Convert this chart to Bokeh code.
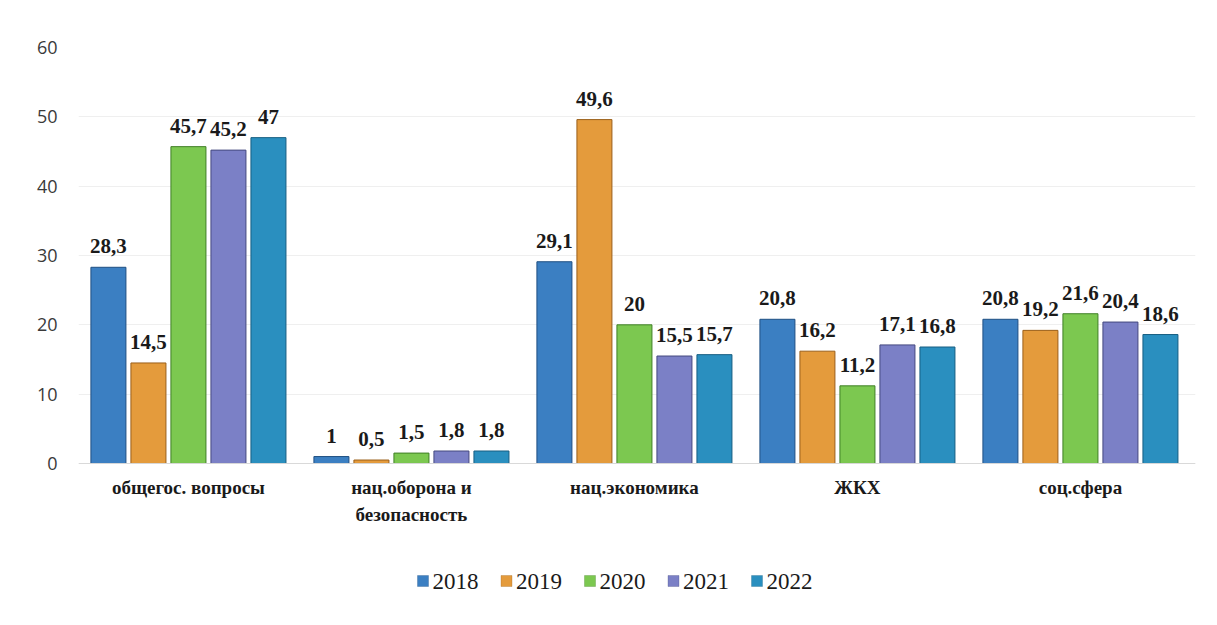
from bokeh.plotting import figure
from bokeh.models import ColumnDataSource, Range1d, FixedTicker, Span, BoxAnnotation
from bokeh.embed import file_html
from bokeh.resources import INLINE
from bokeh.core.properties import value

categories = ["общегос. вопросы", "нац.оборона и\nбезопасность", "нац.экономика", "ЖКХ", "соц.сфера"]
years = ["2018", "2019", "2020", "2021", "2022"]
v2018 = [28.3, 1.0, 29.1, 20.8, 20.8]
v2019 = [14.5, 0.5, 49.6, 16.2, 19.2]
v2020 = [45.7, 1.5, 20.0, 11.2, 21.6]
v2021 = [45.2, 1.8, 15.5, 17.1, 20.4]
v2022 = [47.0, 1.8, 15.7, 16.8, 18.6]
y_ticks = [0, 10, 20, 30, 40, 50, 60]
series = [v2018, v2019, v2020, v2021, v2022]
colors = ["#3b7fc2", "#e49b3c", "#7cc850", "#7b80c6", "#2a8fbf"]
edges = ["#1f4f82", "#9a5f1a", "#3f7f25", "#44487f", "#165e82"]

W, H = 1200, 605
BL, BR, BT, BB = 78, 5, 47, 10
XR = (-0.493, 4.516)
YR = (-19.04, 60)

p = figure(width=W, height=H, output_backend="svg", toolbar_location=None,
           x_range=Range1d(*XR), y_range=Range1d(*YR),
           min_border_left=BL, min_border_right=BR, min_border_top=BT, min_border_bottom=BB,
           background_fill_color="white", border_fill_color="white")
p.outline_line_color = None

frame_w = W - BL - BR
frame_h = H - BT - BB

def sx(px):
    # page x pixel -> x data position (for the hand-made legend text)
    return XR[0] + (px - BL) * (XR[1] - XR[0]) / frame_w

def sy(py):
    return YR[1] - (py - BT) * (YR[1] - YR[0]) / frame_h

step = 0.1794
bw = 0.157
for j, (yr, vals) in enumerate(zip(years, series)):
    xs = [i + (j - 2) * step for i in range(len(categories))]
    src = ColumnDataSource(dict(x=xs, top=vals,
                                lbl=[f"{v:g}".replace(".", ",") for v in vals]))
    p.vbar(x="x", top="top", bottom=0, width=bw, source=src, fill_color=colors[j],
           line_color=edges[j], line_width=1)
    p.text(x="x", y="top", text="lbl", source=src,
           text_align="center", text_baseline="alphabetic", y_offset=-21,
           text_font=value("Liberation Serif"), text_font_style="bold",
           text_font_size="21px", text_color="#1a1a1a")

cat_src = ColumnDataSource(dict(x=list(range(len(categories))), y=[0] * len(categories),
                                t=categories))
p.text(x="x", y="y", text="t", source=cat_src, text_align="center", text_baseline="top",
       y_offset=14, text_font=value("Liberation Serif"), text_font_style="bold",
       text_font_size="19px", text_color="#1a1a1a", text_line_height=1.25)

p.add_layout(Span(location=0, dimension="width", line_color="#d9d9d9", line_width=1))

# legend drawn by hand
leg_x0 = 417      # page px of first swatch
leg_pitch = 83.5
leg_cy = 581      # page px of swatch centre
leg_base = 581    # page px used for the text baseline
for j, yr in enumerate(years):
    gx = leg_x0 + j * leg_pitch
    fb = H - BB - leg_cy  # from frame bottom
    p.add_layout(BoxAnnotation(left=gx - BL, right=gx - BL + 11, bottom=fb - 5, top=fb + 6,
                               left_units="screen", right_units="screen",
                               bottom_units="screen", top_units="screen",
                               fill_color=colors[j], fill_alpha=1,
                               line_color=edges[j], line_width=1))
p.text(x=[sx(leg_x0 + j * leg_pitch + 15) for j in range(len(years))],
       y=[sy(leg_base)] * len(years), text=years, text_align="left",
       text_baseline="alphabetic", text_font=value("Liberation Serif"),
       text_font_size="23px", text_color="#1a1a1a")

p.xaxis.visible = False
p.yaxis.ticker = FixedTicker(ticks=y_ticks)
p.yaxis.major_label_text_font = "Open Sans"
p.yaxis.major_label_text_font_size = "18px"
p.yaxis.major_label_text_color = "#3a3a3a"
p.yaxis.major_label_standoff = 15
p.yaxis.axis_line_color = None
p.yaxis.major_tick_line_color = None
p.yaxis.minor_tick_line_color = None

p.xgrid.grid_line_color = None
p.ygrid.ticker = FixedTicker(ticks=y_ticks)
p.ygrid.grid_line_color = "#efefef"

open("out.html", "w").write(file_html(p, INLINE))
